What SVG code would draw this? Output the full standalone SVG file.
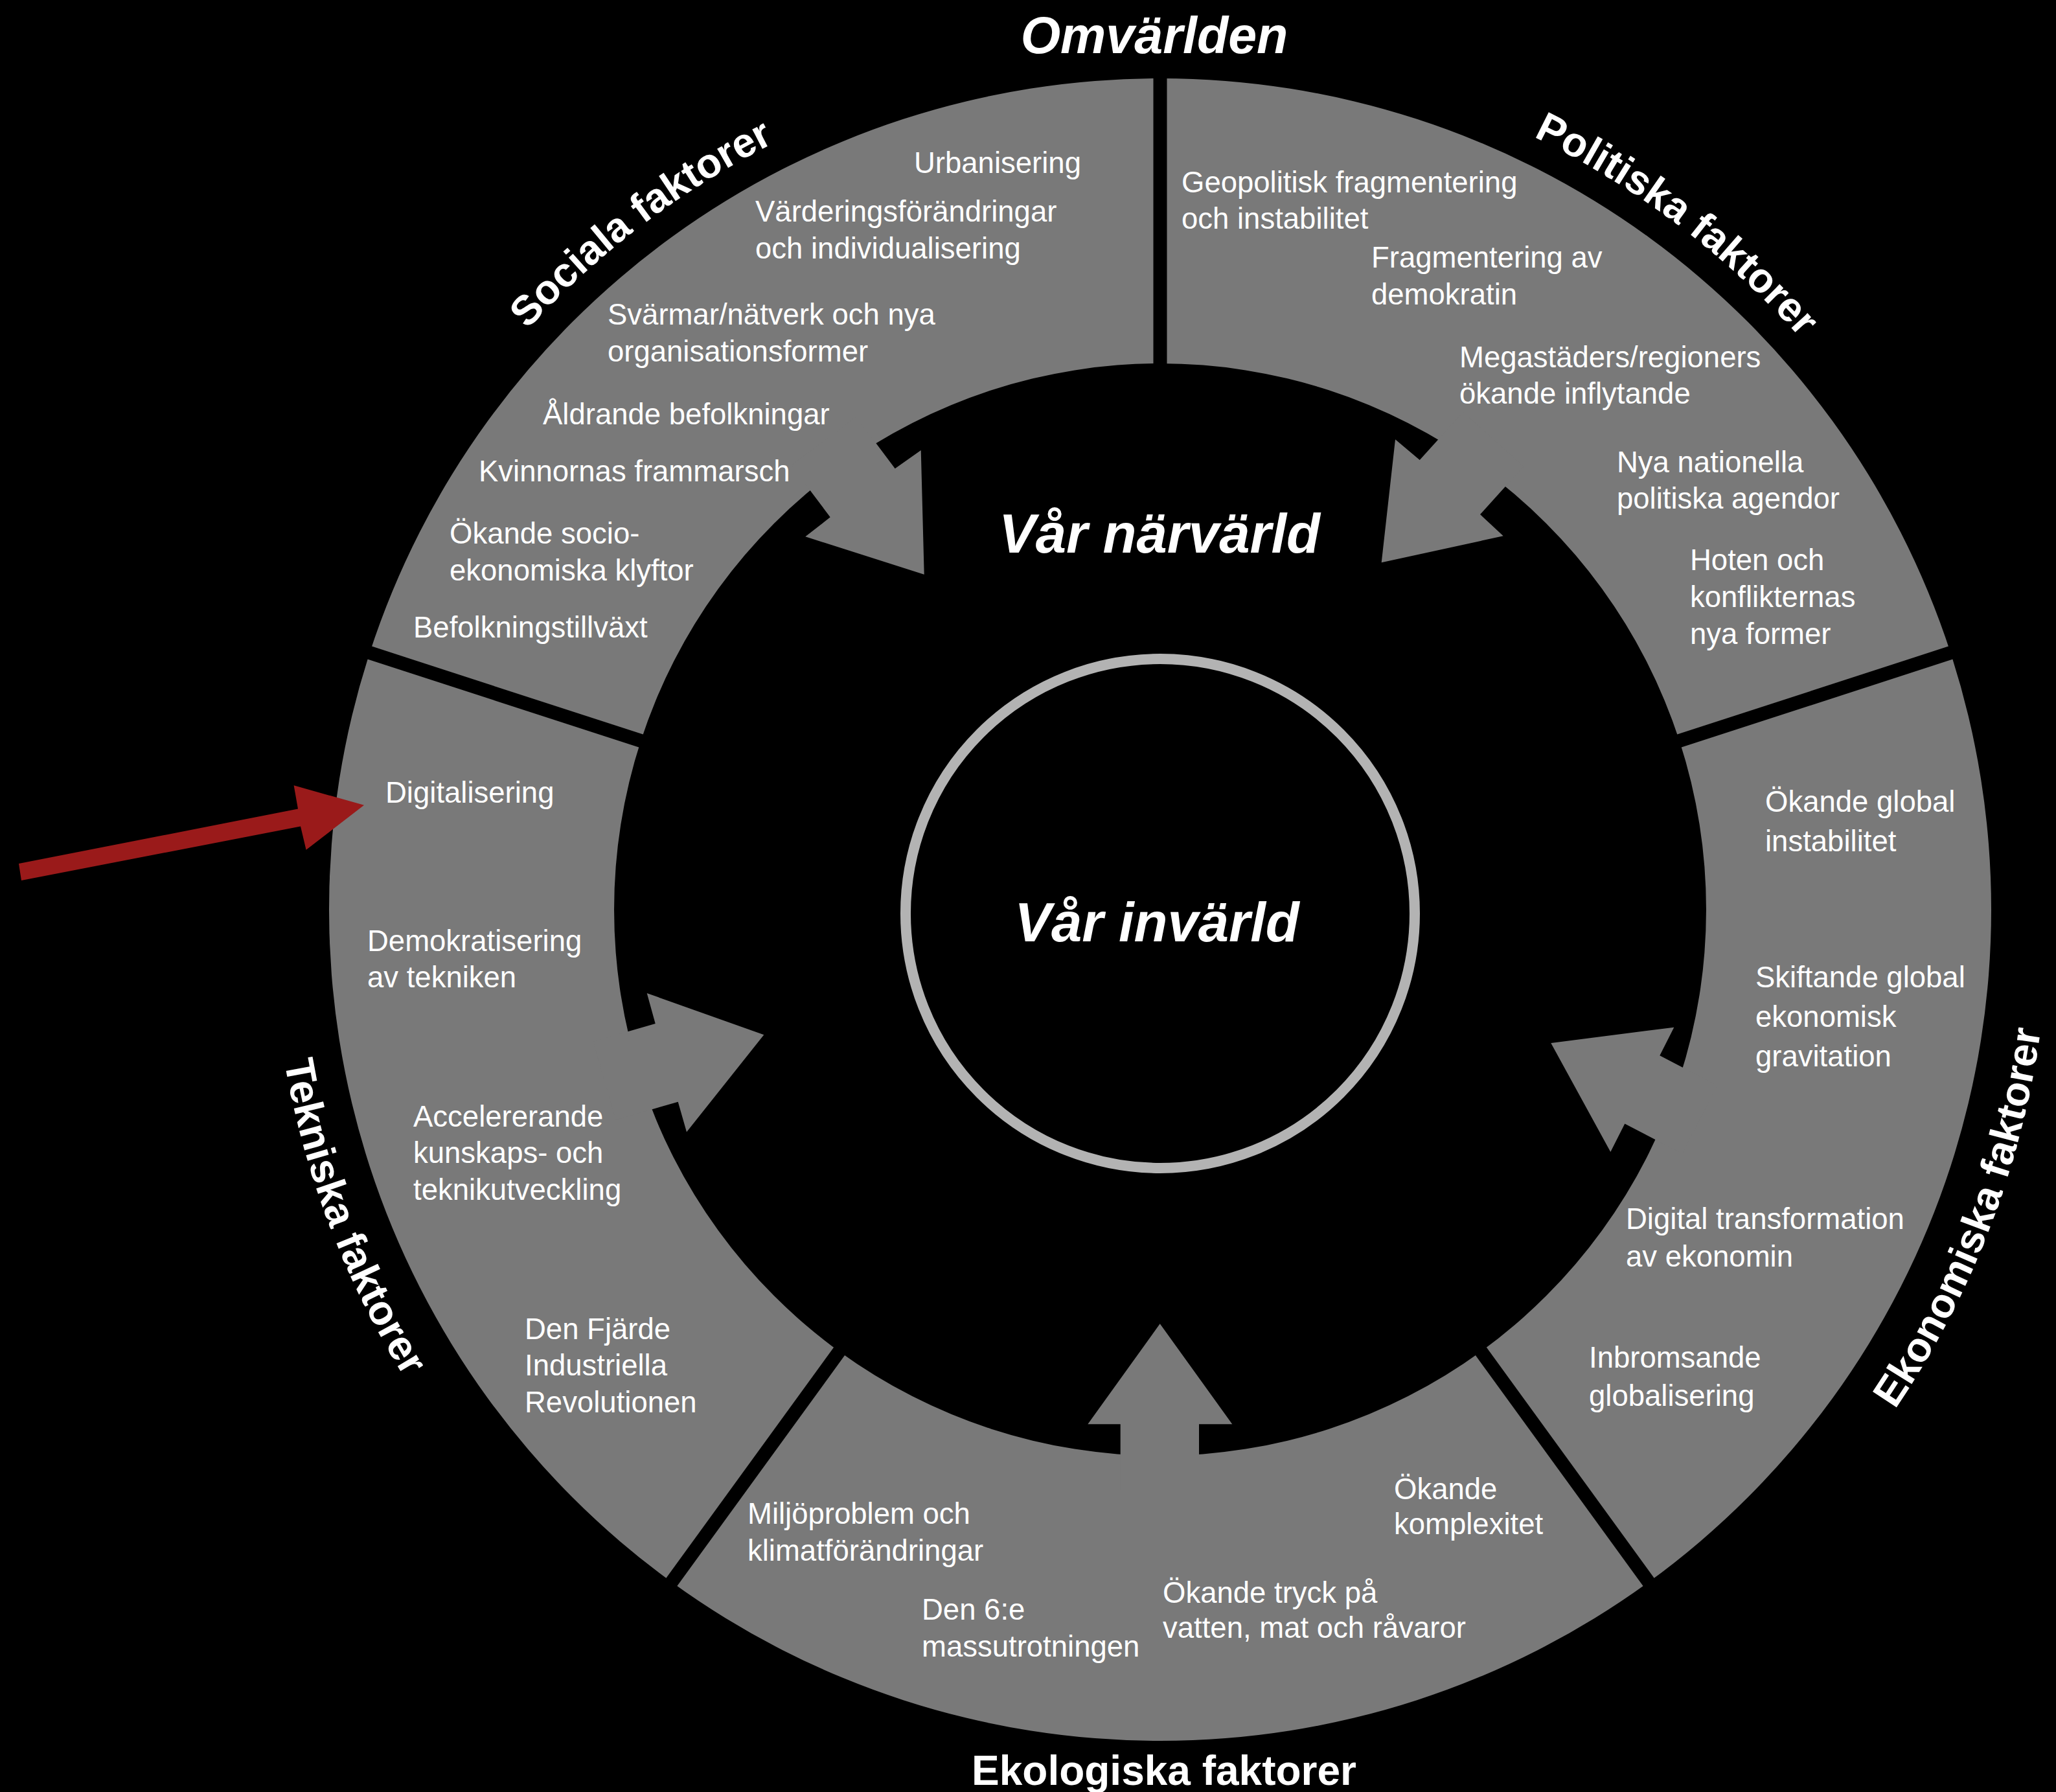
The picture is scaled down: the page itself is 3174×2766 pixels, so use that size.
<svg xmlns="http://www.w3.org/2000/svg" width="3174" height="2766" viewBox="0 0 3174 2766">
<style>
.seg{fill:#797979}
.div{stroke:#000;stroke-width:21;fill:none}
.item{font-family:"Liberation Sans",Arial,Helvetica,sans-serif;font-size:45.5px;fill:#fff}
.ttl{font-family:"Liberation Sans",Arial,Helvetica,sans-serif;font-size:64px;font-weight:bold;fill:#fff}
.big{font-family:"Liberation Sans",Arial,Helvetica,sans-serif;font-weight:bold;font-style:italic;fill:#fff;text-anchor:middle}
</style>
<defs>
<path id="pSoc" d="M 570.4 888.4 A 1325 1325 0 0 1 1627.2 89.2"/>
<path id="pPol" d="M 1952.5 88.9 A 1325 1325 0 0 1 3010.7 886.3"/>
<path id="pEkon" d="M 2654.4 2470.2 A 1372 1372 0 0 0 3146.1 1189.4"/>
<path id="pTek" d="M 436.6 1184.6 A 1372 1372 0 0 0 923.8 2467.1"/>
</defs>
<rect x="0" y="0" width="3174" height="2766" fill="#000"/>

<text class="big" x="1782" y="82" font-size="79">Omvärlden</text>

<g id="sociala">
<path class="seg" d="M 570.8 1007.5 A 1283 1283 0 0 1 1791 121 L 1791 561 A 843 843 0 0 0 989.3 1143.5 Z"/>
<polygon class="seg" points="1321.7,643.3 1381.7,723.3 1421.7,695 1426.7,886.7 1243.3,828.3 1281.7,798.3 1221.7,718.3"/>
<text class="ttl"><textPath href="#pSoc" startOffset="50%" text-anchor="middle">Sociala faktorer</textPath></text>
<text class="item" x="1411" y="267">Urbanisering</text>
<text class="item" x="1166" y="342">Värderingsförändringar</text>
<text class="item" x="1166" y="399">och individualisering</text>
<text class="item" x="938" y="501">Svärmar/nätverk och nya</text>
<text class="item" x="938" y="558">organisationsformer</text>
<text class="item" x="838" y="655">Åldrande befolkningar</text>
<text class="item" x="739" y="743">Kvinnornas frammarsch</text>
<text class="item" x="694" y="839">Ökande socio-</text>
<text class="item" x="694" y="896">ekonomiska klyftor</text>
<text class="item" x="638" y="984">Befolkningstillväxt</text>
</g>

<g id="politiska">
<path class="seg" d="M 1791 121 A 1283 1283 0 0 1 3011.2 1007.5 L 2592.7 1143.5 A 843 843 0 0 0 1791 561 Z"/>
<polygon class="seg" points="2258.7,636 2191.7,710 2154,678.3 2132.7,868.3 2320.7,827.3 2285,794 2352,720"/>
<text class="ttl"><textPath href="#pPol" startOffset="50%" text-anchor="middle">Politiska faktorer</textPath></text>
<text class="item" x="1824" y="297">Geopolitisk fragmentering</text>
<text class="item" x="1824" y="353">och instabilitet</text>
<text class="item" x="2117" y="413">Fragmentering av</text>
<text class="item" x="2117" y="470">demokratin</text>
<text class="item" x="2253" y="567">Megastäders/regioners</text>
<text class="item" x="2253" y="623">ökande inflytande</text>
<text class="item" x="2496" y="729">Nya nationella</text>
<text class="item" x="2496" y="785">politiska agendor</text>
<text class="item" x="2609" y="880">Hoten och</text>
<text class="item" x="2609" y="937">konflikternas</text>
<text class="item" x="2609" y="994">nya former</text>
</g>

<g id="ekonomiska">
<path class="seg" d="M 3011.2 1007.5 A 1283 1283 0 0 1 2545.1 2442 L 2286.5 2086 A 843 843 0 0 0 2592.7 1143.5 Z"/>
<polygon class="seg" points="2651,1675.4 2562.3,1629.3 2584.3,1585.7 2394.3,1610 2486.3,1778.1 2508.3,1734.5 2597,1780.6"/>
<text class="ttl"><textPath href="#pEkon" startOffset="50%" text-anchor="middle">Ekonomiska faktorer</textPath></text>
<text class="item" x="2725" y="1253">Ökande global</text>
<text class="item" x="2725" y="1314">instabilitet</text>
<text class="item" x="2710" y="1524">Skiftande global</text>
<text class="item" x="2710" y="1585">ekonomisk</text>
<text class="item" x="2710" y="1646">gravitation</text>
<text class="item" x="2510" y="1897">Digital transformation</text>
<text class="item" x="2510" y="1955">av ekonomin</text>
<text class="item" x="2453" y="2111">Inbromsande</text>
<text class="item" x="2453" y="2170">globalisering</text>
</g>

<g id="ekologiska">
<path class="seg" d="M 2545.1 2442 A 1283 1283 0 0 1 1036.9 2442 L 1295.5 2086 A 843 843 0 0 0 2286.5 2086 Z"/>
<polygon class="seg" points="1729.7,2300 1729.7,2198.3 1679.3,2198.3 1790.7,2043.3 1902.3,2198.3 1851,2198.3 1851,2300"/>
<text class="ttl" x="1797" y="2755" text-anchor="middle">Ekologiska faktorer</text>
<text class="item" x="1154" y="2352">Miljöproblem och</text>
<text class="item" x="1154" y="2409">klimatförändringar</text>
<text class="item" x="1423" y="2500">Den 6:e</text>
<text class="item" x="1423" y="2557">massutrotningen</text>
<text class="item" x="1795" y="2474">Ökande tryck på</text>
<text class="item" x="1795" y="2528">vatten, mat och råvaror</text>
<text class="item" x="2152" y="2314">Ökande</text>
<text class="item" x="2152" y="2368">komplexitet</text>
</g>

<g id="tekniska">
<path class="seg" d="M 1036.9 2442 A 1283 1283 0 0 1 570.8 1007.5 L 989.3 1143.5 A 843 843 0 0 0 1295.5 2086 Z"/>
<polygon class="seg" points="915.6,1607.7 1011.7,1580 998.7,1533 1179.3,1597.3 1060,1747.3 1046.7,1700.7 950.6,1728.4"/>
<text class="ttl"><textPath href="#pTek" startOffset="50%" text-anchor="middle">Tekniska faktorer</textPath></text>
<text class="item" x="595" y="1239">Digitalisering</text>
<text class="item" x="567" y="1468">Demokratisering</text>
<text class="item" x="567" y="1524">av tekniken</text>
<text class="item" x="638" y="1739">Accelererande</text>
<text class="item" x="638" y="1795">kunskaps- och</text>
<text class="item" x="638" y="1852">teknikutveckling</text>
<text class="item" x="810" y="2067">Den Fjärde</text>
<text class="item" x="810" y="2123">Industriella</text>
<text class="item" x="810" y="2180">Revolutionen</text>
</g>

<g id="dividers">
<line class="div" x1="1791" y1="584" x2="1791" y2="104"/>
<line class="div" x1="2570.9" y1="1150.6" x2="3027.4" y2="1002.3"/>
<line class="div" x1="2273" y1="2067.4" x2="2555.1" y2="2455.7"/>
<line class="div" x1="1309" y1="2067.4" x2="1026.9" y2="2455.7"/>
<line class="div" x1="1011.1" y1="1150.6" x2="554.6" y2="1002.3"/>
</g>

<g id="narvarld">
<text class="big" x="1790" y="853" font-size="85">Vår närvärld</text>
</g>

<g id="invarld">
<circle cx="1791" cy="1410" r="393" fill="none" stroke="#b3b3b3" stroke-width="16"/>
<text class="big" x="1786" y="1453" font-size="85">Vår invärld</text>
</g>

<g id="connectors">
<polygon fill="#9a1a1a" points="29,1333 460,1248.5 453.6,1212.3 562,1242.8 472.6,1311.7 464,1275.5 33,1359"/>
</g>
</svg>
